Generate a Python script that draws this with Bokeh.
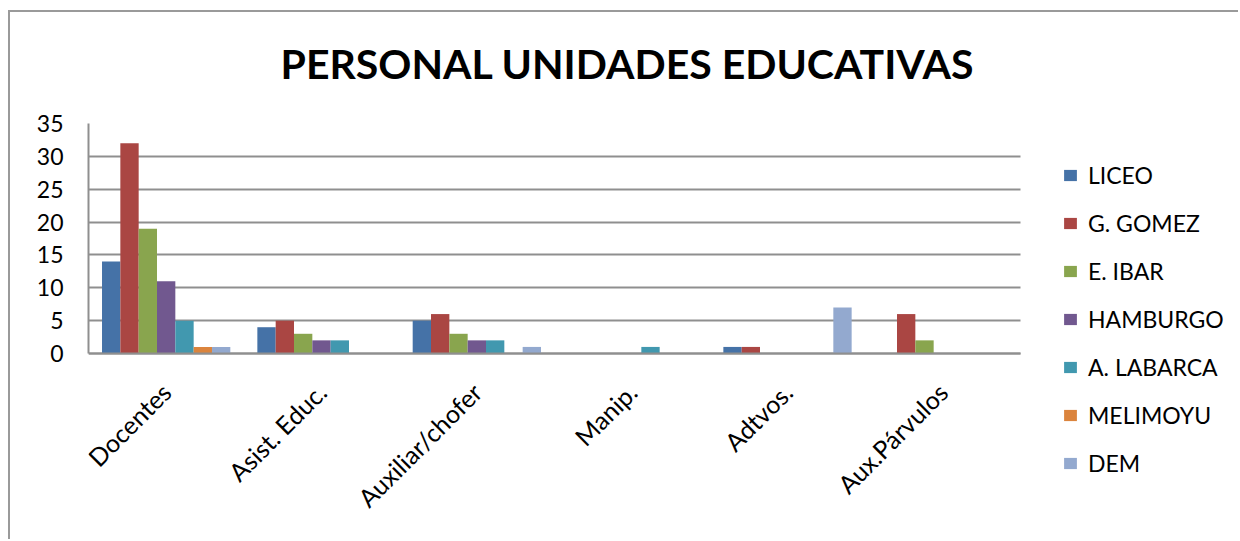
import math
from bokeh.plotting import figure
from bokeh.models import Legend, LegendItem, Range1d, FixedTicker, Title, Grid
from bokeh.transform import dodge
from bokeh.embed import file_html
from bokeh.resources import INLINE

categories = ["Docentes", "Asist. Educ.", "Auxiliar/chofer", "Manip.", "Adtvos.", "Aux.Párvulos"]
series_names = ["LICEO", "G. GOMEZ", "E. IBAR", "HAMBURGO", "A. LABARCA", "MELIMOYU", "DEM"]
liceo = [14, 4, 5, 0, 1, 0]
g_gomez = [32, 5, 6, 0, 1, 6]
e_ibar = [19, 3, 3, 0, 0, 2]
hamburgo = [11, 2, 2, 0, 0, 0]
a_labarca = [5, 2, 2, 1, 0, 0]
melimoyu = [1, 0, 0, 0, 0, 0]
dem = [1, 0, 1, 0, 7, 0]
series_values = [liceo, g_gomez, e_ibar, hamburgo, a_labarca, melimoyu, dem]
colors = ["#4572A7", "#AA4643", "#89A54E", "#71588F", "#4198AF", "#DB843D", "#93A9CF"]
y_ticks = [0, 5, 10, 15, 20, 25, 30, 35]
y_max = 35

FONT = "Lato"
GRID = "#8f8f8f"
W, H = 1238, 539
# plot-area layout in pixels (left, right, top, bottom of the value area)
PL, PR, PT, PB = 88, 1020, 123, 353

n = len(categories)
cat_pos = [i + 0.5 for i in range(n)]
px_per_cat = (PR - PL) / n
px_per_unit = (PB - PT) / y_max
x_end = n + (W - PR) / px_per_cat
y_start = -(H - PB) / px_per_unit

p = figure(x_range=Range1d(0, x_end), y_range=Range1d(y_start, y_max),
           width=W, height=H, output_backend="svg", toolbar_location=None,
           min_border_left=PL, min_border_right=0, min_border_top=PT, min_border_bottom=0)
p.outline_line_color = None
p.border_fill_alpha = 0
p.background_fill_color = "white"
p.styles = {
    "background": "linear-gradient(#9a9a9a, #9a9a9a) 8px 10px / 2px 100% no-repeat, "
                  "linear-gradient(#9a9a9a, #9a9a9a) 8px 10px / 100% 2px no-repeat, white"
}

bw = 0.118
items = []
for i, (name, vals, col) in enumerate(zip(series_names, series_values, colors)):
    src = {"pos": cat_pos, "val": vals}
    r = p.vbar(x=dodge("pos", (i - 3) * bw), top="val", width=bw,
               source=src, fill_color=col, line_color=None)
    items.append(LegendItem(label=name, renderers=[r]))

p.yaxis.ticker = FixedTicker(ticks=y_ticks)
p.yaxis.bounds = (0, y_max)
p.yaxis.major_label_text_font = FONT
p.yaxis.major_label_text_font_size = "23px"
p.yaxis.major_label_text_color = "black"
p.yaxis.major_tick_line_color = None
p.yaxis.major_tick_out = 0
p.yaxis.minor_tick_line_color = None
p.yaxis.minor_tick_out = 0
p.yaxis.axis_line_color = GRID
p.yaxis.axis_line_width = 2
p.yaxis.major_label_standoff = 25

p.xaxis.ticker = FixedTicker(ticks=cat_pos)
p.xaxis.major_label_overrides = {pos: cat for pos, cat in zip(cat_pos, categories)}
p.xaxis.fixed_location = 0
p.xaxis.bounds = (0, n)
p.xaxis.major_label_orientation = math.pi / 4
p.xaxis.major_label_text_font = FONT
p.xaxis.major_label_text_font_size = "25px"
p.xaxis.major_label_text_color = "black"
p.xaxis.major_tick_line_color = None
p.xaxis.major_tick_out = 0
p.xaxis.minor_tick_line_color = None
p.xaxis.minor_tick_out = 0
p.xaxis.axis_line_color = GRID
p.xaxis.axis_line_width = 2
p.xaxis.major_label_standoff = 34

p.xgrid.grid_line_color = None
p.ygrid.grid_line_color = GRID
p.ygrid.grid_line_width = 2
if "cross_bounds" in Grid.properties():
    p.ygrid.cross_bounds = (0, n)
else:
    p.ygrid.grid_line_color = None
    p.segment(x0=0, x1=n, y0=y_ticks[1:], y1=y_ticks[1:], line_color=GRID, line_width=2)

title = Title(text="PERSONAL UNIDADES EDUCATIVAS", align="left", offset=192, standoff=72,
              text_font=FONT, text_font_style="bold", text_font_size="41px", text_color="black")
p.add_layout(title, "above")

legend = Legend(items=items, location=(1062 - PL, H - 478), padding=0, margin=0,
                border_line_color=None, background_fill_alpha=0,
                glyph_width=16, glyph_height=14, label_height=30, label_standoff=10, spacing=18,
                label_text_font=FONT, label_text_font_size="23px", label_text_color="black",
                label_text_baseline="middle")
p.add_layout(legend, "center")

open("out.html", "w").write(file_html(p, INLINE))
